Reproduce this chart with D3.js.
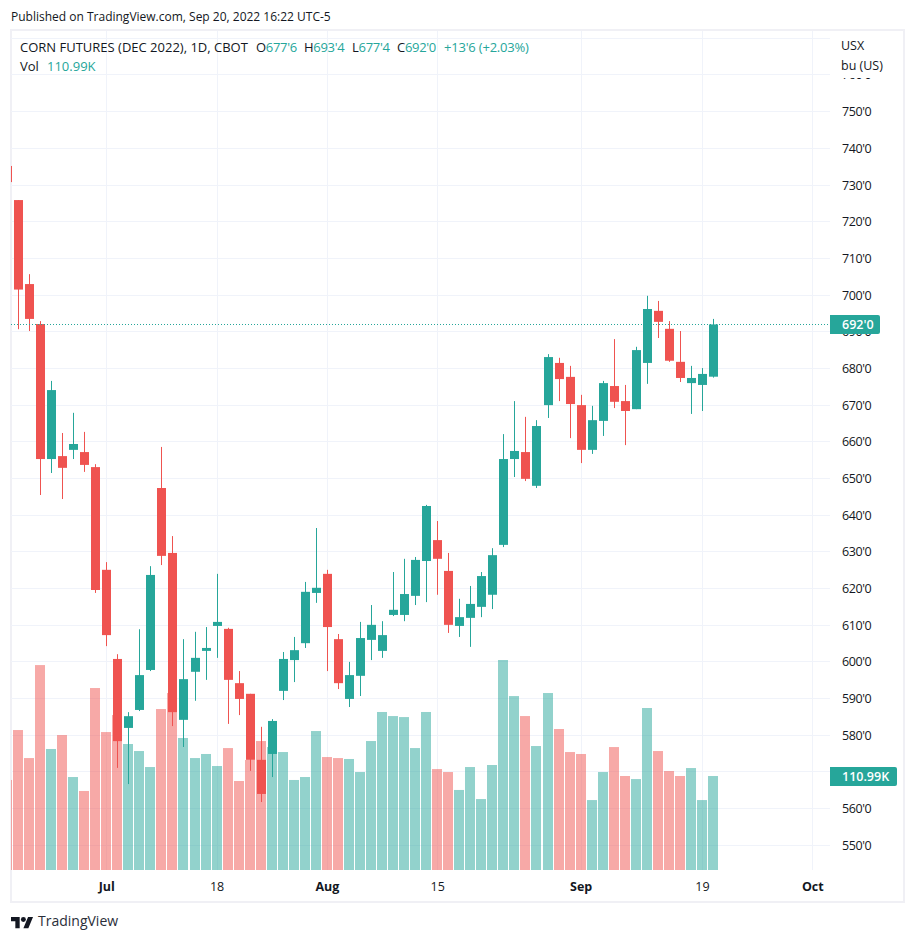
<!DOCTYPE html>
<html lang="en">
<head>
<meta charset="UTF-8">
<title>Corn futures</title>
<script src="https://d3js.org/d3.v7.min.js"></script>
<style>
  html, body { margin: 0; padding: 0; background: #fff; }
  text { font-family: "Open Sans", sans-serif; }
</style>
</head>
<body>
<div id="chart"></div>
<script>
// first entry is the bar cut off by the left edge of the pane
const open = [735.2,725.9,703.0,692.1,655.3,656.1,657.8,657.2,653.1,625.1,600.8,582.0,586.9,597.8,647.4,629.7,584.2,597.3,603.0,609.8,609.0,594.2,591.3,573.3,574.9,592.1,600.5,605.1,618.8,624.0,606.2,589.9,596.2,606.0,603.0,612.8,612.8,618.0,627.5,633.2,624.8,609.8,612.0,615.0,618.3,631.9,655.3,657.2,648.0,670.0,681.5,677.7,670.0,657.8,665.7,675.2,671.1,668.9,681.5,695.7,690.8,681.8,676.0,675.5,677.75];
const high = [735.2,725.9,705.7,692.9,676.6,662.4,667.9,662.7,653.9,627.2,602.1,586.3,608.9,626.1,658.6,634.3,606.2,608.2,609.5,624.0,609.3,597.5,591.3,582.3,584.4,602.7,606.8,621.8,636.5,625.1,607.6,600.0,610.9,615.5,611.1,624.5,628.1,628.6,642.8,638.4,629.7,617.2,620.7,624.5,631.0,662.1,671.1,666.8,665.9,683.9,682.9,680.7,672.8,669.8,676.6,688.0,675.5,685.9,699.8,698.4,692.9,690.2,680.7,680.1,693.5];
const low = [730.8,690.7,690.2,645.5,651.5,644.4,655.3,651.8,618.8,604.3,571.1,566.7,586.6,597.5,626.4,582.5,576.8,589.4,595.1,601.1,583.1,585.5,570.3,561.8,568.6,589.6,594.5,603.8,616.1,597.5,592.6,587.7,590.7,600.5,601.1,612.5,611.1,615.5,616.3,618.3,607.9,606.8,604.1,612.2,614.4,631.3,650.4,649.3,647.4,666.5,671.1,661.0,654.2,656.7,661.6,669.2,659.1,668.9,675.8,688.3,681.8,676.3,667.6,668.4,677.5];
const close = [730.8,701.5,693.5,655.3,674.1,652.9,659.4,653.7,619.6,607.3,578.4,585.2,596.4,623.7,628.9,586.3,595.3,601.1,603.8,610.9,595.1,589.9,573.3,564.0,583.9,600.8,603.2,619.1,620.2,609.5,594.2,596.4,606.5,610.1,607.3,614.2,618.5,627.8,642.5,628.1,610.1,612.2,615.8,623.4,629.1,655.3,657.5,649.9,664.3,683.1,677.1,670.3,657.8,665.9,676.0,670.9,668.4,685.0,696.2,692.7,682.1,677.4,677.4,678.5,692.0];
const volume = [106.3,165.3,132.2,242.0,142.9,159.4,109.8,93.3,214.9,162.9,183.0,148.8,140.5,121.6,190.1,209.0,155.9,132.2,137.0,122.8,144.0,105.1,129.9,152.3,145.2,139.3,106.3,109.8,164.1,133.4,132.2,131.1,115.7,152.3,186.6,181.8,180.6,144.0,186.6,119.2,115.7,94.5,121.6,83.8,124.0,248.0,205.4,181.8,146.4,209.0,166.5,139.3,137.0,82.6,115.7,145.2,111.0,107.4,191.3,140.5,116.9,111.0,120.4,82.6,110.99];

const gridTicks = d3.range(550, 771, 10);
const priceTicks = d3.range(550, 761, 10); // 770 sits behind the currency block
const timeTickBars = [9, 19, 29, 39, 52, 63, 73]; // positions in the arrays above
const timeTickLabels = ["Jul", "18", "Aug", "15", "Sep", "19", "Oct"];
const monthLabels = ["Jul", "Aug", "Sep", "Oct"];
const legendKeys = ["O", "H", "L", "C"];
const legendValues = ["677'6", "693'4", "677'4", "692'0"];

const upColor = "#26a69a", downColor = "#ef5350";
const gridColor = "#f0f3fa", textColor = "#131722";

const svg = d3.select("#chart").append("svg")
  .attr("width", 915).attr("height", 941)
  .style("display", "block");

const x = d3.scaleLinear().domain([1, 64]).range([18.5, 713.5]);
const y = d3.scaleLinear().domain([550, 770]).range([845.3, 38.3]);
const yVol = d3.scaleLinear().domain([0, 248]).range([870, 660]);

const px = v => Math.floor(v);
const crisp = v => Math.floor(v) + 0.5;

svg.append("defs").append("clipPath").attr("id", "pane")
  .append("rect").attr("x", 11).attr("y", 31).attr("width", 819).attr("height", 839);

// frame
svg.append("rect").attr("x", 11).attr("y", 30).attr("width", 893).attr("height", 872)
  .attr("fill", "none").attr("stroke", "#f0f0f5").attr("stroke-width", 2);

// grid
const grid = svg.append("g");
grid.selectAll("line.h").data(gridTicks).join("line")
  .attr("x1", 11).attr("x2", 830)
  .attr("y1", d => crisp(y(d))).attr("y2", d => crisp(y(d)))
  .attr("stroke", gridColor);
grid.selectAll("line.v").data(timeTickBars).join("line")
  .attr("class", "v")
  .attr("y1", 31).attr("y2", 870)
  .attr("x1", d => px(x(d)) + 0.5).attr("x2", d => px(x(d)) + 0.5)
  .attr("stroke", gridColor);

const pane = svg.append("g").attr("clip-path", "url(#pane)");
const isUp = i => close[i] >= open[i];

// volume goes under the candles
pane.append("g").selectAll("rect").data(volume).join("rect")
  .attr("x", (d, i) => px(x(i)) - 5)
  .attr("width", 10)
  .attr("y", d => yVol(d))
  .attr("height", d => yVol(0) - yVol(d))
  .attr("fill", (d, i) => isUp(i) ? upColor : downColor)
  .attr("fill-opacity", 0.5);

const candles = pane.append("g").selectAll("g").data(d3.range(open.length)).join("g")
  .attr("fill", i => isUp(i) ? upColor : downColor);
candles.append("rect")
  .attr("x", i => px(x(i)))
  .attr("width", 1)
  .attr("y", i => y(high[i]))
  .attr("height", i => y(low[i]) - y(high[i]));
candles.append("rect")
  .attr("x", i => px(x(i)) - 4)
  .attr("width", 9)
  .attr("y", i => y(Math.max(open[i], close[i])))
  .attr("height", i => Math.max(1, Math.abs(y(open[i]) - y(close[i]))));

// last price line
const lastClose = close[close.length - 1];
svg.append("line")
  .attr("x1", 11).attr("x2", 830)
  .attr("y1", crisp(y(lastClose))).attr("y2", crisp(y(lastClose)))
  .attr("stroke", upColor).attr("stroke-dasharray", "1 2");

// price axis
const priceAxis = d3.axisRight(y).tickValues(priceTicks).tickSize(0).tickPadding(12)
  .tickFormat(d => d + "'0");
const gPrice = svg.append("g").attr("transform", "translate(830,0)").call(priceAxis);
gPrice.select(".domain").remove();
gPrice.selectAll("text").attr("fill", textColor)
  .style("font-size", "12.5px").style("letter-spacing", "-0.4px")
  .style("font-family", '"Open Sans", sans-serif');

// time axis
const timeAxis = d3.axisBottom(x).tickValues(timeTickBars).tickSize(0).tickPadding(12)
  .tickFormat((d, i) => timeTickLabels[i]);
const gTime = svg.append("g").attr("transform", "translate(-0.5,870)").call(timeAxis);
gTime.select(".domain").remove();
gTime.selectAll("text").attr("fill", textColor)
  .style("font-size", "12.5px").style("font-family", '"Open Sans", sans-serif')
  .style("font-weight", function () { return monthLabels.includes(this.textContent) ? 700 : 400; });

// currency block hides the top of the price scale
svg.append("rect").attr("x", 831).attr("y", 31).attr("width", 72).attr("height", 47).attr("fill", "#fff");
const addText = (tx, ty, s, opts = {}) => svg.append("text")
  .attr("x", tx).attr("y", ty).attr("dy", "0.35em")
  .attr("fill", opts.fill || textColor)
  .style("font-size", (opts.size || 12.5) + "px")
  .style("font-weight", opts.weight || 400)
  .text(s);
addText(841, 46, "USX");
addText(841, 66, "bu (US)");

// value tags
const tag = (ty, w, s) => {
  svg.append("path")
    .attr("d", `M830,${ty - 9.5}h${w - 2}q2,0 2,2v15q0,2 -2,2h-${w - 2}z`)
    .attr("fill", upColor);
  addText(842, ty, s, { fill: "#fff", weight: 600 });
};
tag(y(lastClose), 50, "692'0");
tag(yVol(volume[volume.length - 1]) + 0.5, 67, "110.99K");

// header and legend
addText(11, 17, "Published on TradingView.com, Sep 20, 2022 16:22 UTC-5", { size: 12 });
addText(20, 47, "CORN FUTURES (DEC 2022), 1D, CBOT", { size: 13 });
const legendX = [256, 304, 352, 397];
legendKeys.forEach((k, i) => {
  const t = svg.append("text").attr("x", legendX[i]).attr("y", 47).attr("dy", "0.35em")
    .style("font-size", "13px").style("letter-spacing", "-0.3px");
  t.append("tspan").attr("fill", textColor).text(k);
  t.append("tspan").attr("fill", upColor).text(legendValues[i]);
});
addText(444, 47, "+13'6 (+2.03%)", { size: 13, fill: upColor }).style("letter-spacing", "-0.2px");
addText(20, 66, "Vol", { size: 13 });
addText(47, 66, "110.99K", { size: 13, fill: upColor });

// footer logo
const logo = svg.append("g").attr("transform", "translate(11,914.5) scale(0.62)").attr("fill", "#131722");
logo.append("path").attr("d", "M14 22H7V11H0V4h14v18zM28 22h-8l7.5-18h8L28 22z");
logo.append("circle").attr("cx", 20).attr("cy", 8).attr("r", 4);
addText(38, 921.5, "TradingView", { size: 14, fill: "#2a2e39" });
</script>
</body>
</html>
